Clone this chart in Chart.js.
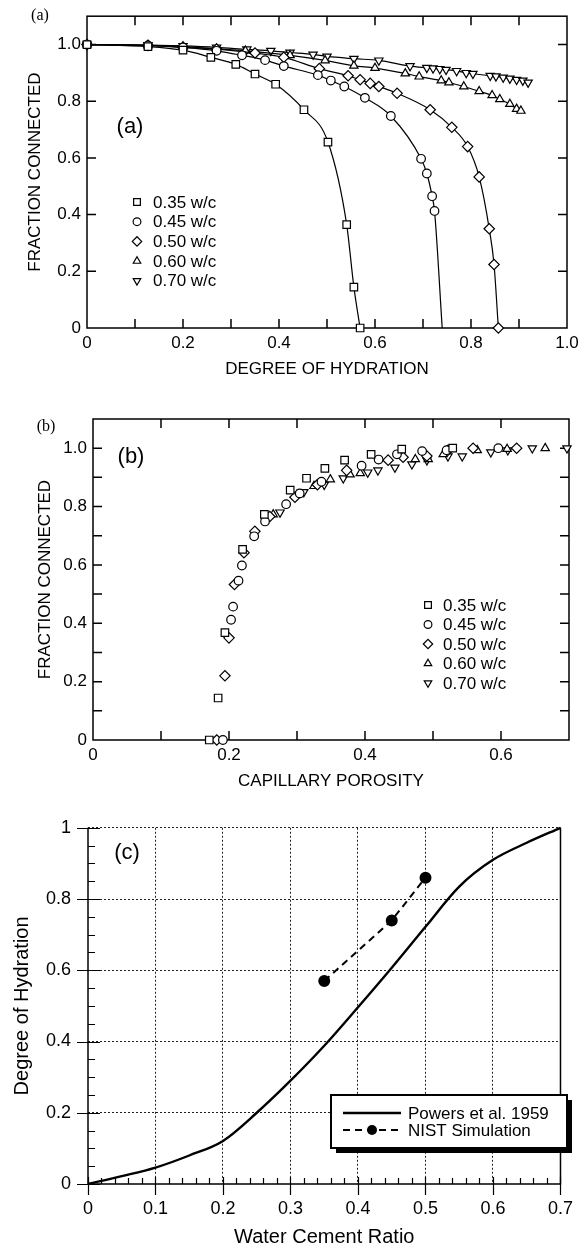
<!DOCTYPE html>
<html><head><meta charset="utf-8">
<script src="https://cdn.jsdelivr.net/npm/chart.js@4.4.0/dist/chart.umd.min.js"></script>
<style>
html,body{margin:0;padding:0;background:#fff;}
#wrap{position:relative;width:587px;height:1249px;overflow:hidden;background:#fff;}
.pane{position:absolute;left:0;width:587px;}
canvas{display:block;}
</style></head><body>
<div id="wrap">
<div class="pane" style="top:0;height:390px"><canvas id="ca" width="587" height="390"></canvas></div>
<div class="pane" style="top:390px;height:410px"><canvas id="cb" width="587" height="410"></canvas></div>
<div class="pane" style="top:800px;height:449px"><canvas id="cc" width="587" height="449"></canvas></div>
</div>
<script>
// ---------------- DATA ----------------
const seriesLabels = ['0.35 w/c', '0.45 w/c', '0.50 w/c', '0.60 w/c', '0.70 w/c'];

// Panel (a): degree of hydration vs fraction connected
const hydA035 = [0, 0.127, 0.2, 0.258, 0.31, 0.35, 0.393, 0.452, 0.502, 0.541, 0.556, 0.569];
const fracA035 = [1.0, 0.993, 0.98, 0.955, 0.93, 0.896, 0.86, 0.77, 0.656, 0.365, 0.144, 0];
const hydA045 = [0, 0.127, 0.2, 0.27, 0.323, 0.371, 0.41, 0.481, 0.508, 0.536, 0.579, 0.633, 0.696, 0.708, 0.719, 0.724, 0.74];
const fracA045 = [1.0, 0.997, 0.99, 0.978, 0.962, 0.945, 0.924, 0.892, 0.873, 0.852, 0.812, 0.748, 0.597, 0.545, 0.465, 0.413, 0];
const hydA050 = [0, 0.127, 0.2, 0.27, 0.35, 0.41, 0.484, 0.544, 0.569, 0.59, 0.608, 0.646, 0.715, 0.76, 0.793, 0.817, 0.838, 0.848, 0.857];
const fracA050 = [1.0, 0.997, 0.99, 0.984, 0.97, 0.955, 0.915, 0.89, 0.876, 0.863, 0.852, 0.828, 0.77, 0.708, 0.64, 0.533, 0.35, 0.224, 0];
const hydA060 = [0, 0.127, 0.2, 0.27, 0.33, 0.423, 0.496, 0.556, 0.6, 0.663, 0.692, 0.738, 0.754, 0.785, 0.817, 0.844, 0.86, 0.881, 0.895, 0.904];
const fracA060 = [1.0, 0.997, 0.993, 0.985, 0.978, 0.962, 0.944, 0.925, 0.917, 0.898, 0.887, 0.873, 0.866, 0.852, 0.835, 0.821, 0.807, 0.79, 0.773, 0.766];
const hydA070 = [0, 0.127, 0.2, 0.27, 0.333, 0.383, 0.423, 0.471, 0.5, 0.556, 0.608, 0.673, 0.708, 0.721, 0.735, 0.748, 0.77, 0.79, 0.804, 0.84, 0.852, 0.867, 0.881, 0.895, 0.908, 0.919];
const fracA070 = [1.0, 0.998, 0.995, 0.99, 0.983, 0.978, 0.972, 0.965, 0.958, 0.95, 0.944, 0.924, 0.918, 0.916, 0.914, 0.911, 0.907, 0.9, 0.897, 0.89, 0.888, 0.884, 0.88, 0.876, 0.873, 0.866];

// Panel (b): capillary porosity vs fraction connected
const porB035 = [0.171, 0.184, 0.194, 0.220, 0.252, 0.290, 0.314, 0.341, 0.370, 0.409, 0.454, 0.529];
const fracB035 = [0, 0.144, 0.368, 0.653, 0.773, 0.856, 0.897, 0.931, 0.959, 0.979, 0.997, 1.0];
const porB045 = [0.191, 0.203, 0.206, 0.214, 0.219, 0.237, 0.253, 0.284, 0.304, 0.336, 0.395, 0.420, 0.447, 0.484, 0.520, 0.596];
const fracB045 = [0, 0.412, 0.457, 0.546, 0.598, 0.698, 0.749, 0.808, 0.845, 0.885, 0.940, 0.961, 0.979, 0.990, 0.993, 1.0];
const porB050 = [0.182, 0.194, 0.200, 0.208, 0.222, 0.238, 0.260, 0.297, 0.330, 0.373, 0.434, 0.456, 0.491, 0.522, 0.559, 0.623];
const fracB050 = [0, 0.220, 0.350, 0.533, 0.642, 0.715, 0.766, 0.832, 0.875, 0.924, 0.959, 0.969, 0.973, 0.993, 1.0, 1.0];
const porB060 = [0.265, 0.300, 0.325, 0.349, 0.378, 0.393, 0.474, 0.493, 0.515, 0.565, 0.609, 0.665];
const fracB060 = [0.773, 0.840, 0.870, 0.893, 0.910, 0.914, 0.962, 0.962, 0.979, 0.993, 0.997, 1.0];
const porB070 = [0.275, 0.310, 0.340, 0.368, 0.404, 0.419, 0.444, 0.469, 0.491, 0.522, 0.543, 0.585, 0.610, 0.646, 0.697];
const fracB070 = [0.780, 0.850, 0.875, 0.897, 0.917, 0.924, 0.934, 0.945, 0.959, 0.972, 0.972, 0.986, 0.993, 1.0, 1.0];

// Panel (c): water cement ratio vs degree of hydration
const wcPowers = [0, 0.05, 0.1, 0.15, 0.2, 0.25, 0.3, 0.35, 0.4, 0.45, 0.5, 0.55, 0.6, 0.65, 0.7];
const hydPowers = [0, 0.022, 0.046, 0.08, 0.121, 0.2, 0.29, 0.388, 0.496, 0.607, 0.722, 0.835, 0.91, 0.958, 1.0];
const wcNist = [0.35, 0.45, 0.5];
const hydNist = [0.57, 0.74, 0.86];
const seriesLabelsC = ['Powers et al. 1959', 'NIST Simulation'];

// Tick labels
const aXTickLabels = ['0', '0.2', '0.4', '0.6', '0.8', '1.0'];
const aYTickLabels = ['0', '0.2', '0.4', '0.6', '0.8', '1.0'];
const bXTickLabels = ['0', '0.2', '0.4', '0.6'];
const bYTickLabels = ['0', '0.2', '0.4', '0.6', '0.8', '1.0'];
const cXTickLabels = ['0', '0.1', '0.2', '0.3', '0.4', '0.5', '0.6', '0.7'];
const cYTickLabels = ['0', '0.2', '0.4', '0.6', '0.8', '1'];

// ---------------- HELPERS ----------------
const SANS = "'Liberation Sans', Arial, Helvetica, sans-serif";
const SERIF = "'Liberation Serif', 'Times New Roman', serif";
Chart.defaults.font.family = SANS;
Chart.defaults.color = '#000';
Chart.defaults.animation = false;

const steps = (a, b, s) => { const out = []; const n = Math.round((b - a) / s); for (let i = 0; i <= n; i++) out.push(+(a + i * s).toFixed(4)); return out; };
const pts = (xs, ys) => xs.map((x, i) => ({x, y: ys[i]}));
const key = v => Number(v).toFixed(3);

function axis(o) {
  const lab = new Map(o.labels.map(t => [key(parseFloat(t)), t]));
  return {
    type: 'linear', min: o.min, max: o.max,
    afterBuildTicks: s => { s.ticks = o.ticks.map(v => ({value: v})); },
    afterFit: s => { if (o.isY) s.width = o.size; else s.height = o.size; },
    ticks: {autoSkip: false, maxRotation: 0, minRotation: 0, padding: o.pad, color: '#000',
      font: {size: o.fontSize, family: SANS},
      callback: v => lab.has(key(v)) ? lab.get(key(v)) : ''},
    grid: o.grid || {display: false, drawTicks: false},
    border: o.border || {display: false},
    title: {display: true, text: o.title, color: '#000', font: {size: o.titleSize, family: SANS},
      padding: o.titlePad}
  };
}

const isMajor = (scale, v, labels) => labels.some(t => key(parseFloat(t)) === key(v));

const framePlugin = {
  id: 'frame',
  beforeDatasetsDraw(chart, args, o) {
    if (!o || !o.style) return;
    const {ctx, chartArea: a} = chart;
    const xs = chart.scales.x, ys = chart.scales.y;
    ctx.save();
    ctx.strokeStyle = '#000';
    ctx.setLineDash([]);
    ctx.lineWidth = o.lineWidth;
    if (o.style === 'box') {
      ctx.strokeRect(a.left, a.top, a.right - a.left, a.bottom - a.top);
      ctx.beginPath();
      xs.ticks.forEach(t => {
        const px = xs.getPixelForValue(t.value);
        if (px <= a.left + 1 || px >= a.right - 1) return;
        ctx.moveTo(px, a.bottom); ctx.lineTo(px, a.bottom - o.len);
        ctx.moveTo(px, a.top); ctx.lineTo(px, a.top + o.len);
      });
      ys.ticks.forEach(t => {
        const py = ys.getPixelForValue(t.value);
        if (py >= a.bottom - 1 || py <= a.top + 1) return;
        ctx.moveTo(a.left, py); ctx.lineTo(a.left + o.len, py);
        ctx.moveTo(a.right, py); ctx.lineTo(a.right - o.len, py);
      });
      ctx.stroke();
    } else {
      ctx.beginPath();
      ctx.moveTo(a.left, a.top); ctx.lineTo(a.left, a.bottom); ctx.lineTo(a.right, a.bottom); ctx.lineTo(a.right, a.top);
      ctx.stroke();
      ctx.lineWidth = 1.2;
      ctx.beginPath();
      xs.ticks.forEach(t => {
        const px = Math.round(xs.getPixelForValue(t.value)) + 0.5;
        if (isMajor(xs, t.value, o.xLabels)) { ctx.moveTo(px, a.bottom + 11); ctx.lineTo(px, a.bottom - 7); }
        else { ctx.moveTo(px, a.bottom); ctx.lineTo(px, a.bottom - 6); }
      });
      ys.ticks.forEach(t => {
        const py = Math.round(ys.getPixelForValue(t.value)) + 0.5;
        if (isMajor(ys, t.value, o.yLabels)) { ctx.moveTo(a.left - 11, py); ctx.lineTo(a.left + 12, py); }
        else { ctx.moveTo(a.left, py); ctx.lineTo(a.left + 7, py); }
      });
      ctx.stroke();
    }
    ctx.restore();
  }
};

const textPlugin = {
  id: 'texts',
  afterDraw(chart, args, o) {
    if (!o || !o.items) return;
    const ctx = chart.ctx;
    ctx.save();
    ctx.fillStyle = '#000';
    ctx.textAlign = 'center';
    ctx.textBaseline = 'middle';
    o.items.forEach(it => { ctx.font = it.font; ctx.fillText(it.text, it.x, it.y); });
    ctx.restore();
  }
};

function drawMarker(ctx, style, rot, r, x, y, bw) {
  if (Chart.helpers && Chart.helpers.drawPoint) {
    Chart.helpers.drawPoint(ctx, {pointStyle: style, rotation: rot, radius: r, borderWidth: bw}, x, y);
  }
}

const markerLegend = {
  id: 'markerLegend',
  afterDraw(chart, args, o) {
    if (!o || o.x === undefined) return;
    const ctx = chart.ctx;
    ctx.save();
    chart.data.datasets.forEach((ds, i) => {
      const y = o.y + i * o.step;
      const r = (Array.isArray(ds.pointRadius) ? ds.pointRadius[0] : ds.pointRadius) * o.scale;
      ctx.lineWidth = ds.pointBorderWidth;
      ctx.strokeStyle = '#000';
      ctx.fillStyle = '#fff';
      drawMarker(ctx, ds.pointStyle, ds.pointRotation || 0, r, o.x, y, ds.pointBorderWidth);
      ctx.fillStyle = '#000';
      ctx.font = o.font;
      ctx.textAlign = 'left';
      ctx.textBaseline = 'middle';
      ctx.fillText(ds.label, o.tx, y + 1);
    });
    ctx.restore();
  }
};

const boxLegend = {
  id: 'boxLegend',
  afterDraw(chart, args, o) {
    if (!o || o.left === undefined) return;
    const ctx = chart.ctx;
    ctx.save();
    ctx.fillStyle = '#000';
    ctx.fillRect(o.left + o.shadow, o.top + o.shadow, o.right - o.left, o.bottom - o.top);
    ctx.fillStyle = '#fff';
    ctx.fillRect(o.left, o.top, o.right - o.left, o.bottom - o.top);
    ctx.lineWidth = 2;
    ctx.strokeStyle = '#000';
    ctx.strokeRect(o.left, o.top, o.right - o.left, o.bottom - o.top);
    chart.data.datasets.forEach((ds, i) => {
      const y = o.rowY[i];
      ctx.setLineDash(ds.borderDash || []);
      ctx.lineWidth = ds.borderWidth;
      ctx.beginPath(); ctx.moveTo(o.x1, y); ctx.lineTo(o.x2, y); ctx.stroke();
      ctx.setLineDash([]);
      if (ds.pointRadius > 0) {
        ctx.fillStyle = '#000';
        ctx.beginPath(); ctx.arc((o.x1 + o.x2) / 2, y, ds.pointRadius, 0, Math.PI * 2); ctx.fill();
      }
      ctx.fillStyle = '#000';
      ctx.font = o.font;
      ctx.textAlign = 'left';
      ctx.textBaseline = 'middle';
      ctx.fillText(ds.label, o.tx, y + 1);
    });
    ctx.restore();
  }
};

const markerStyles = [
  {pointStyle: 'rect', pointRadius: 5.3, pointRotation: 0},
  {pointStyle: 'circle', pointRadius: 4.3, pointRotation: 0},
  {pointStyle: 'rectRot', pointRadius: 5.2, pointRotation: 0},
  {pointStyle: 'triangle', pointRadius: 4.8, pointRotation: 0},
  {pointStyle: 'triangle', pointRadius: 4.8, pointRotation: 180}
];

function markerDataset(i, data, withLine, radii) {
  const m = markerStyles[i];
  return {
    label: seriesLabels[i], data,
    showLine: withLine, borderColor: '#000', borderWidth: 1.2,
    cubicInterpolationMode: 'monotone',
    pointStyle: m.pointStyle, pointRotation: m.pointRotation,
    pointRadius: radii || m.pointRadius,
    pointBackgroundColor: '#fff', pointBorderColor: '#000', pointBorderWidth: 1.2,
    clip: false
  };
}

// ---------------- PANEL (a) ----------------
const aRadius045 = hydA045.map((v, i) => i === hydA045.length - 1 ? 0 : markerStyles[1].pointRadius);
new Chart(document.getElementById('ca'), {
  type: 'scatter',
  data: {datasets: [
    markerDataset(0, pts(hydA035, fracA035), true),
    markerDataset(1, pts(hydA045, fracA045), true, aRadius045),
    markerDataset(2, pts(hydA050, fracA050), true),
    markerDataset(3, pts(hydA060, fracA060), true),
    markerDataset(4, pts(hydA070, fracA070), true)
  ]},
  options: {
    responsive: false, events: [],
    layout: {padding: {top: 7, right: 20, left: 0, bottom: 0}},
    scales: {
      x: axis({min: 0, max: 1.0, ticks: steps(0, 1, 0.1), labels: aXTickLabels, size: 62, pad: 5, fontSize: 17,
        title: 'DEGREE OF HYDRATION', titleSize: 17, titlePad: {top: 0, bottom: 10}}),
      y: axis({isY: true, min: 0, max: 1.1, ticks: steps(0, 1, 0.2), labels: aYTickLabels, size: 87, pad: 6, fontSize: 17,
        title: 'FRACTION CONNECTED', titleSize: 17, titlePad: {top: 25, bottom: 0}})
    },
    plugins: {
      legend: {display: false}, tooltip: {enabled: false},
      frame: {style: 'box', len: 9, lineWidth: 1.5},
      markerLegend: {x: 137, tx: 153, y: 202, step: 19.7, scale: 0.9, font: '17px ' + SANS},
      texts: {items: [
        {text: '(a)', x: 40, y: 16, font: '16px ' + SERIF},
        {text: '(a)', x: 130, y: 127, font: '22px ' + SANS}
      ]}
    }
  },
  plugins: [framePlugin, markerLegend, textPlugin]
});

// ---------------- PANEL (b) ----------------
new Chart(document.getElementById('cb'), {
  type: 'scatter',
  data: {datasets: [
    markerDataset(0, pts(porB035, fracB035), false),
    markerDataset(1, pts(porB045, fracB045), false),
    markerDataset(2, pts(porB050, fracB050), false),
    markerDataset(3, pts(porB060, fracB060), false),
    markerDataset(4, pts(porB070, fracB070), false)
  ]},
  options: {
    responsive: false, events: [],
    layout: {padding: {top: 29, right: 18, left: 0, bottom: 0}},
    scales: {
      x: axis({min: 0, max: 0.7, ticks: steps(0, 0.7, 0.1), labels: bXTickLabels, size: 60, pad: 5, fontSize: 17,
        title: 'CAPILLARY POROSITY', titleSize: 17, titlePad: {top: 0, bottom: 8}}),
      y: axis({isY: true, min: 0, max: 1.1, ticks: steps(0, 1.1, 0.1), labels: bYTickLabels, size: 93, pad: 6, fontSize: 17,
        title: 'FRACTION CONNECTED', titleSize: 17, titlePad: {top: 35, bottom: 0}})
    },
    plugins: {
      legend: {display: false}, tooltip: {enabled: false},
      frame: {style: 'box', len: 9, lineWidth: 1.5},
      markerLegend: {x: 428, tx: 443, y: 215, step: 19.5, scale: 0.9, font: '17px ' + SANS},
      texts: {items: [
        {text: '(b)', x: 46, y: 37, font: '16px ' + SERIF},
        {text: '(b)', x: 131, y: 67, font: '22px ' + SANS}
      ]}
    }
  },
  plugins: [framePlugin, markerLegend, textPlugin]
});

// ---------------- PANEL (c) ----------------
const cGridX = ctx => { const v = ctx.tick ? ctx.tick.value : 0; return (v > 0.001 && v < 0.699 && isMajor(null, v, cXTickLabels)) ? '#222' : 'rgba(0,0,0,0)'; };
const cGridY = ctx => { const v = ctx.tick ? ctx.tick.value : 0; return (v > 0.001 && isMajor(null, v, cYTickLabels)) ? '#222' : 'rgba(0,0,0,0)'; };
new Chart(document.getElementById('cc'), {
  type: 'scatter',
  data: {datasets: [
    {label: seriesLabelsC[0], data: pts(wcPowers, hydPowers), showLine: true, borderColor: '#000', borderWidth: 2.4,
      cubicInterpolationMode: 'monotone', pointRadius: 0, clip: false},
    {label: seriesLabelsC[1], data: pts(wcNist, hydNist), showLine: true, borderColor: '#000', borderWidth: 2,
      borderDash: [7, 5], pointRadius: 5, pointBackgroundColor: '#000', pointBorderColor: '#000', clip: false}
  ]},
  options: {
    responsive: false, events: [],
    layout: {padding: {top: 23, right: 10, left: 0, bottom: 0}},
    scales: {
      x: axis({min: 0, max: 0.7, ticks: steps(0, 0.7, 0.02), labels: cXTickLabels, size: 65, pad: 14, fontSize: 18,
        title: 'Water Cement Ratio', titleSize: 20, titlePad: {top: 0, bottom: 0},
        grid: {display: true, drawTicks: false, drawOnChartArea: true, color: cGridX, lineWidth: 1},
        border: {display: false, dash: [2, 2]}}),
      y: axis({isY: true, min: 0, max: 1, ticks: steps(0, 1, 0.05), labels: cYTickLabels, size: 88, pad: 17, fontSize: 18,
        title: 'Degree of Hydration', titleSize: 20, titlePad: {top: 10, bottom: 0},
        grid: {display: true, drawTicks: false, drawOnChartArea: true, color: cGridY, lineWidth: 1},
        border: {display: false, dash: [2, 2]}})
    },
    plugins: {
      legend: {display: false}, tooltip: {enabled: false},
      frame: {style: 'axes', lineWidth: 1.5, xLabels: cXTickLabels, yLabels: cYTickLabels},
      boxLegend: {left: 331, right: 567, top: 295, bottom: 348, shadow: 5, rowY: [313, 330], x1: 343, x2: 401, tx: 408,
        font: '17px ' + SANS},
      texts: {items: [
        {text: '(c)', x: 127, y: 53, font: '22px ' + SANS}
      ]}
    }
  },
  plugins: [framePlugin, boxLegend, textPlugin]
});
</script>
</body></html>
